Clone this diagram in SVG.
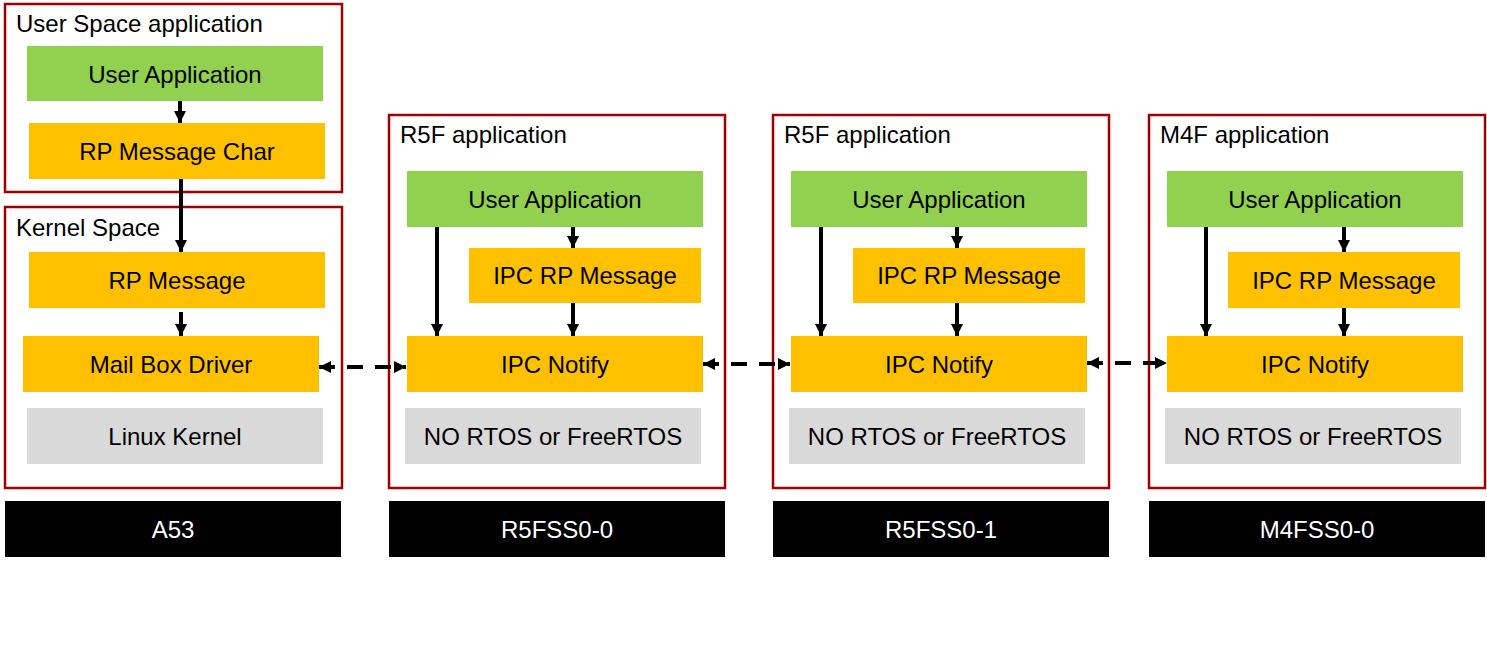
<svg xmlns="http://www.w3.org/2000/svg" width="1487" height="648" viewBox="0 0 1487 648">
<style>
text{font-family:"Liberation Sans",Arial,sans-serif;font-size:24px;fill:#000}
.c{text-anchor:middle}
.w{fill:#fff}
.frame{fill:none;stroke:#A00000;stroke-width:2.5}
.green{fill:#92D050}
.orange{fill:#FFC000}
.gray{fill:#D9D9D9}
.black{fill:#000}
.arr{stroke:#000;stroke-width:4;fill:none;marker-end:url(#ah)}
.darr{stroke:#000;stroke-width:4;fill:none;stroke-dasharray:16 12;marker-start:url(#ah);marker-end:url(#ah)}
</style>
<defs>
<marker id="ah" viewBox="0 0 10 10" refX="10" refY="5" markerWidth="12" markerHeight="15" markerUnits="userSpaceOnUse" orient="auto-start-reverse">
<path d="M0,0 L10,5 L0,10 z" fill="#000"/>
</marker>
</defs>
<rect width="1487" height="648" fill="#fff"/>

<g id="a53-user-space">
<rect class="frame" x="5" y="4" width="337" height="188"/>
<text x="16" y="32">User Space application</text>
</g>
<g id="a53-user-app"><rect class="green" x="27" y="46" width="296" height="55"/><text class="c" x="175" y="83">User Application</text></g>
<g id="a53-rpmsg-char"><rect class="orange" x="29" y="123" width="296" height="56"/><text class="c" x="177" y="160">RP Message Char</text></g>

<g id="a53-kernel-space">
<rect class="frame" x="5" y="207" width="337" height="281"/>
<text x="16" y="236">Kernel Space</text>
</g>
<g id="a53-rpmsg"><rect class="orange" x="29" y="252" width="296" height="56"/><text class="c" x="177" y="289">RP Message</text></g>
<g id="a53-mailbox"><rect class="orange" x="23" y="336" width="296" height="56"/><text class="c" x="171" y="373">Mail Box Driver</text></g>
<g id="a53-linux"><rect class="gray" x="27" y="408" width="296" height="56"/><text class="c" x="175" y="445">Linux Kernel</text></g>
<g id="a53-label"><rect class="black" x="5" y="501" width="336" height="56"/><text class="c w" x="173" y="538">A53</text></g>

<g id="r5f0-frame"><rect class="frame" x="389" y="115" width="336" height="373"/><text x="400" y="143">R5F application</text></g>
<g id="r5f0-user-app"><rect class="green" x="407" y="171" width="296" height="56"/><text class="c" x="555" y="208">User Application</text></g>
<g id="r5f0-ipc-rpmsg"><rect class="orange" x="469" y="248" width="232" height="55"/><text class="c" x="585" y="284">IPC RP Message</text></g>
<g id="r5f0-ipc-notify"><rect class="orange" x="407" y="336" width="296" height="56"/><text class="c" x="555" y="373">IPC Notify</text></g>
<g id="r5f0-rtos"><rect class="gray" x="405" y="408" width="296" height="56"/><text class="c" x="553" y="445">NO RTOS or FreeRTOS</text></g>
<g id="r5f0-label"><rect class="black" x="389" y="501" width="336" height="56"/><text class="c w" x="557" y="538">R5FSS0-0</text></g>

<g id="r5f1-frame"><rect class="frame" x="773" y="115" width="336" height="373"/><text x="784" y="143">R5F application</text></g>
<g id="r5f1-user-app"><rect class="green" x="791" y="171" width="296" height="56"/><text class="c" x="939" y="208">User Application</text></g>
<g id="r5f1-ipc-rpmsg"><rect class="orange" x="853" y="248" width="232" height="55"/><text class="c" x="969" y="284">IPC RP Message</text></g>
<g id="r5f1-ipc-notify"><rect class="orange" x="791" y="336" width="296" height="56"/><text class="c" x="939" y="373">IPC Notify</text></g>
<g id="r5f1-rtos"><rect class="gray" x="789" y="408" width="296" height="56"/><text class="c" x="937" y="445">NO RTOS or FreeRTOS</text></g>
<g id="r5f1-label"><rect class="black" x="773" y="501" width="336" height="56"/><text class="c w" x="941" y="538">R5FSS0-1</text></g>

<g id="m4f-frame"><rect class="frame" x="1149" y="115" width="336" height="373"/><text x="1160" y="143">M4F application</text></g>
<g id="m4f-user-app"><rect class="green" x="1167" y="171" width="296" height="56"/><text class="c" x="1315" y="208">User Application</text></g>
<g id="m4f-ipc-rpmsg"><rect class="orange" x="1228" y="252" width="232" height="56"/><text class="c" x="1344" y="289">IPC RP Message</text></g>
<g id="m4f-ipc-notify"><rect class="orange" x="1167" y="336" width="296" height="56"/><text class="c" x="1315" y="373">IPC Notify</text></g>
<g id="m4f-rtos"><rect class="gray" x="1165" y="408" width="296" height="56"/><text class="c" x="1313" y="445">NO RTOS or FreeRTOS</text></g>
<g id="m4f-label"><rect class="black" x="1149" y="501" width="336" height="56"/><text class="c w" x="1317" y="538">M4FSS0-0</text></g>

<g id="connectors">
<line class="arr" x1="180" y1="101" x2="180" y2="123"/>
<line class="arr" x1="181" y1="179" x2="181" y2="252"/>
<line class="arr" x1="181" y1="312" x2="181" y2="336"/>

<line class="arr" x1="437" y1="227" x2="437" y2="336"/>
<line class="arr" x1="573" y1="227" x2="573" y2="248"/>
<line class="arr" x1="573" y1="303" x2="573" y2="336"/>

<line class="arr" x1="821" y1="227" x2="821" y2="336"/>
<line class="arr" x1="957" y1="227" x2="957" y2="248"/>
<line class="arr" x1="957" y1="303" x2="957" y2="336"/>

<line class="arr" x1="1206" y1="227" x2="1206" y2="336"/>
<line class="arr" x1="1344" y1="227" x2="1344" y2="252"/>
<line class="arr" x1="1344" y1="308" x2="1344" y2="336"/>

<line class="darr" x1="319" y1="367" x2="406" y2="367"/>
<line class="darr" x1="703" y1="364" x2="790" y2="364"/>
<line class="darr" x1="1087" y1="363" x2="1167" y2="363"/>
</g>
</svg>
